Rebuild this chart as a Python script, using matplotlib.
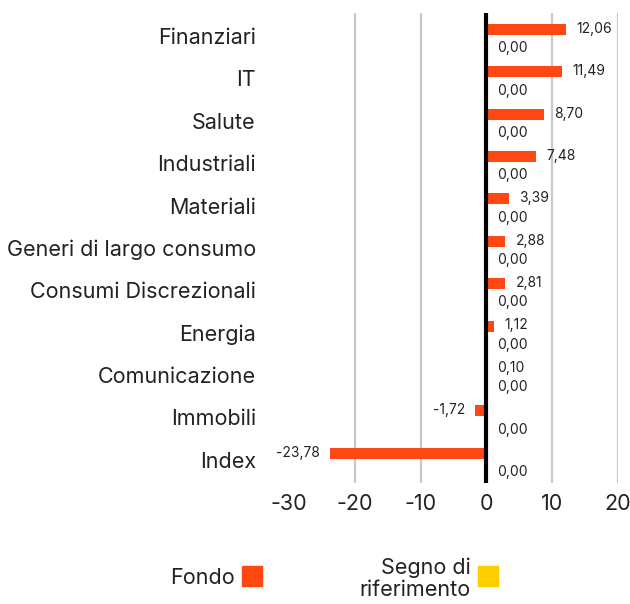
import numpy as np
import matplotlib.pyplot as plt
from matplotlib.patches import Rectangle

plt.rcParams['font.family'] = ['Inter', 'DejaVu Sans']

categories = ["Finanziari", "IT", "Salute", "Industriali", "Materiali",
              "Generi di largo consumo", "Consumi Discrezionali", "Energia",
              "Comunicazione", "Immobili", "Index"]
fondo = [12.06, 11.49, 8.70, 7.48, 3.39, 2.88, 2.81, 1.12, 0.10, -1.72, -23.78]
segno = [0.00] * 11

ORANGE = "#FF4713"
YELLOW = "#FFCE00"

def fmt(v):
    return ("%.2f" % v).replace(".", ",")

fig = plt.figure(figsize=(6.30, 6.04), dpi=100)
ax = fig.add_axes([0.459, 0.200, 0.522, 0.779])

y = np.arange(len(categories))
h = 0.26
off = 0.155
ax.barh(y - off, fondo, height=h, color=ORANGE, zorder=2)
ax.barh(y + off, segno, height=h, color=YELLOW, zorder=2)

# value labels
for yi, v in zip(y, fondo):
    if v >= 0:
        ax.annotate(fmt(v), (v, yi - off), xytext=(7.5, 0.5), textcoords="offset points",
                    ha="left", va="center", fontsize=10, color="#222222")
    else:
        ax.annotate(fmt(v), (v, yi - off), xytext=(-7.5, 0.5), textcoords="offset points",
                    ha="right", va="center", fontsize=10, color="#222222")
for yi, v in zip(y, segno):
    ax.annotate(fmt(v), (v, yi + off), xytext=(8, -4), textcoords="offset points",
                ha="left", va="center", fontsize=10, color="#222222")

ax.set_xlim(-30, 20)
ax.set_ylim(10.55, -0.55)
ax.set_xticks([-30, -20, -10, 0, 10, 20])
ax.set_xticklabels(["-30", "-20", "-10", "0", "10", "20"])
ax.set_yticks(y)
ax.set_yticklabels(categories)
ax.tick_params(axis="y", length=0, pad=24, labelsize=15.5, labelcolor="#222222")
ax.tick_params(axis="x", length=0, pad=8, labelsize=15.5, labelcolor="#222222")

ax.grid(axis="x", color="#c8c8c8", linewidth=1.6, zorder=0)
ax.get_xgridlines()[0].set_visible(False)
ax.get_xgridlines()[3].set_visible(False)
ax.axvline(0, color="black", linewidth=3, zorder=3)
for s in ax.spines.values():
    s.set_visible(False)

# legend
fig.text(235 / 630, 1 - 578 / 604, "Fondo", ha="right", va="center", fontsize=15.5, color="#222222")
fig.patches.append(Rectangle((242 / 630, 1 - 586 / 604), 20 / 630, 20 / 604,
                             transform=fig.transFigure, color=ORANGE, figure=fig))
fig.text(471 / 630, 1 - 579 / 604, "Segno di\nriferimento", ha="right", va="center",
         multialignment="right", fontsize=15.5, color="#222222", linespacing=1.15)
fig.patches.append(Rectangle((478 / 630, 1 - 586 / 604), 20 / 630, 20 / 604,
                             transform=fig.transFigure, color=YELLOW, figure=fig))

fig.savefig("out.png", dpi=100)
